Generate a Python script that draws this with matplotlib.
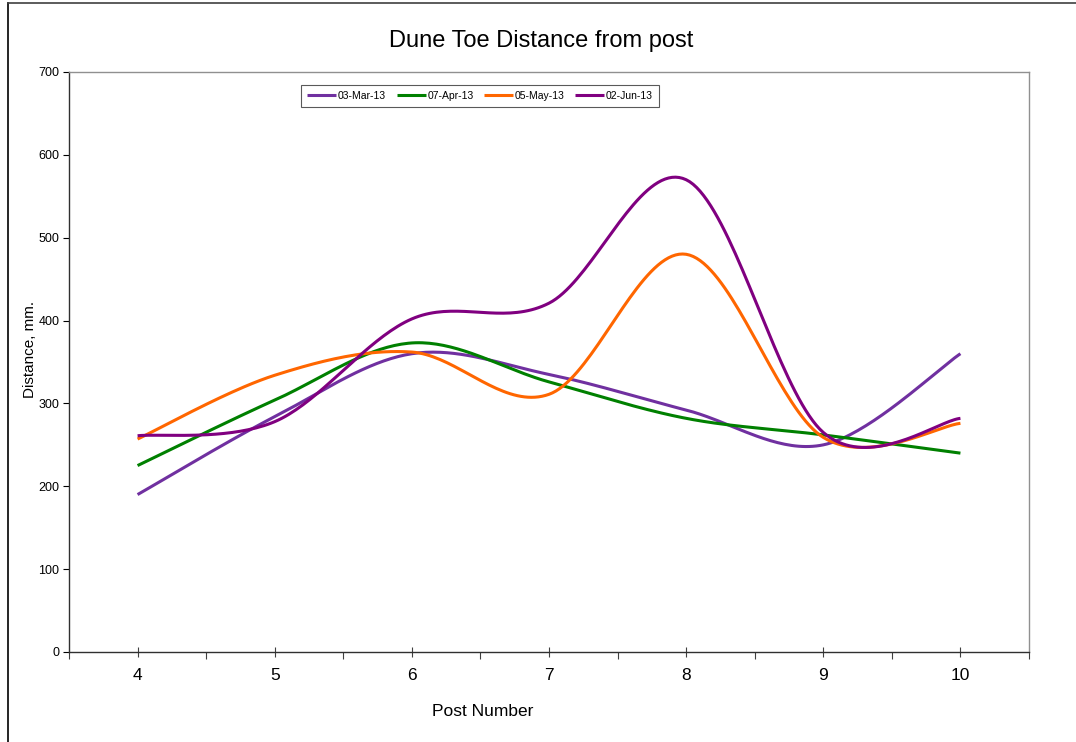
import matplotlib.pyplot as plt
from matplotlib.lines import Line2D
import numpy as np

plt.rcParams['font.family'] = ['Liberation Sans', 'DejaVu Sans']

posts = [4, 5, 6, 7, 8, 9, 10]
mar13 = [190, 284, 360, 335, 292, 250, 360]
apr13 = [225, 304, 373, 326, 282, 262, 240]
may13 = [257, 334, 362, 311, 480, 259, 276]
jun13 = [261, 278, 402, 421, 570, 265, 282]

series = [
    ('03-Mar-13', mar13, '#7030A0'),
    ('07-Apr-13', apr13, '#008000'),
    ('05-May-13', may13, '#FF6600'),
    ('02-Jun-13', jun13, '#800080'),
]


def smooth(xs, ys, n=40):
    # excel style smoothed line (catmull-rom through the points)
    xs = np.asarray(xs, float)
    ys = np.asarray(ys, float)
    px = np.concatenate([[xs[0]], xs, [xs[-1]]])
    py = np.concatenate([[ys[0]], ys, [ys[-1]]])
    t = np.linspace(0, 1, n)
    outx, outy = [], []
    for i in range(1, len(px) - 2):
        for p, out in ((px, outx), (py, outy)):
            p0, p1, p2, p3 = p[i - 1], p[i], p[i + 1], p[i + 2]
            c1 = p1 + (p2 - p0) / 6
            c2 = p2 - (p3 - p1) / 6
            b = ((1 - t) ** 3 * p1 + 3 * (1 - t) ** 2 * t * c1
                 + 3 * (1 - t) * t ** 2 * c2 + t ** 3 * p2)
            out.extend(b if i == 1 else b[1:])
    return np.array(outx), np.array(outy)


fig = plt.figure(figsize=(10.76, 7.42), dpi=100)
ax = fig.add_axes([69 / 1076, 90 / 742, 960 / 1076, 580 / 742])

xpos = np.arange(len(posts))
for label, vals, color in series:
    sx, sy = smooth(xpos, vals)
    ax.plot(sx, sy, color=color, lw=2.2, label=label, solid_capstyle='butt')

ax.set_xlim(-0.5, len(posts) - 0.5)
ax.set_ylim(0, 700)
ax.set_yticks(range(0, 701, 100))
ax.set_xticks(np.arange(-0.5, len(posts), 1.0))
ax.set_xticklabels([])
ax.set_xticks(xpos, minor=True)
ax.set_xticklabels([str(p) for p in posts], minor=True, fontsize=12.5)
ax.tick_params(axis='y', direction='out', length=4, width=0.8, labelsize=9, pad=3)
ax.tick_params(axis='x', which='major', direction='out', length=5, width=0.8, color='#404040')
ax.tick_params(axis='x', which='minor', direction='inout', length=7, width=0.8, color='#404040', pad=8)

for s in ['top', 'right']:
    ax.spines[s].set_color('#909090')
    ax.spines[s].set_linewidth(1.0)
for s in ['left', 'bottom']:
    ax.spines[s].set_color('#303030')
    ax.spines[s].set_linewidth(1.0)

fig.text(541 / 1076, 1 - 41 / 742, 'Dune Toe Distance from post', ha='center', va='center', fontsize=17)
fig.text(483 / 1076, 1 - 711 / 742, 'Post Number', ha='center', va='center', fontsize=12.5)
fig.text(30 / 1076, 1 - 349 / 742, 'Distance, mm.', ha='center', va='center', rotation=90, fontsize=11)

leg = ax.legend(loc='center', bbox_to_anchor=((480 - 69) / 960, (652 - 96) / 580), ncol=4,
                fontsize=7.5, frameon=True, fancybox=False, handlelength=2.8,
                handletextpad=0.15, columnspacing=1.0, borderpad=0.6, borderaxespad=0)
leg.get_frame().set_edgecolor('#303030')
leg.get_frame().set_linewidth(0.8)

# outer chart frame
fig.add_artist(Line2D([7.5 / 1076, 7.5 / 1076], [0, 1 - 3 / 742], transform=fig.transFigure, color='black', lw=1.2))
fig.add_artist(Line2D([7.5 / 1076, 1], [1 - 3 / 742, 1 - 3 / 742], transform=fig.transFigure, color='#404040', lw=1.2))

plt.savefig('out.png', dpi=100)
